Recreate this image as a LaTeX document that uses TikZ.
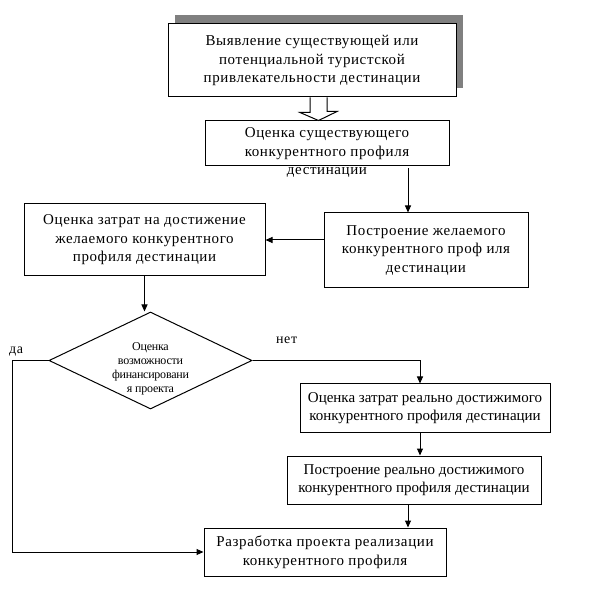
\documentclass[tikz,border=0pt]{standalone}
\usepackage{fontspec}
\setmainfont{Liberation Serif}[LetterSpace=4]
\usetikzlibrary{shapes.geometric,arrows.meta}
\definecolor{shadowgray}{gray}{0.5}
\tikzset{
  boxfont/.style={font=\fontsize{15}{18.5}\selectfont},
  box/.style={draw=black, line width=1pt, fill=white, align=center, inner sep=4pt, boxfont},
  tight/.style={font=\fontsize{15}{18.5}\selectfont\addfontfeature{LetterSpace=0}},
  flow/.style={draw=black, line width=1pt, -{Triangle[length=7pt,width=6pt]}},
  decision/.style={draw=black, line width=1pt, diamond, inner sep=0pt, shape aspect=2.1},
  decfont/.style={align=center, inner sep=0pt,
    font=\fontsize{12}{14}\selectfont\addfontfeature{LetterSpace=-2}},
  lbl/.style={font=\fontsize{14}{16}\selectfont, inner sep=0pt}
}
\begin{document}
\begin{tikzpicture}[x=1pt,y=-1pt]
\useasboundingbox (0,0) rectangle (613,601);
% shadow behind the top box
\fill[shadowgray] (175,15) rectangle (463,88);
\node[box, minimum width=288pt, minimum height=73pt] (b1) at (312,60.5)
  {Выявление существующей или\\потенциальной туристской\\привлекательности дестинации};

\node[box, minimum width=244pt, minimum height=45pt] (b2) at (327,143.5) {};
\node[boxfont, align=center, anchor=north, inner sep=0pt] (b2t) at ([yshift=-7pt]b2.north)
  {Оценка существующего\\конкурентного профиля\\дестинации};

% hollow block arrow
\coordinate (ha) at (318.5,0);
\draw[line width=1pt, fill=white]
  ([xshift=-8.5pt]b1.south -| ha) -- ++(0,15) -- ++(-10,0) -- (b2.north -| ha) -- ++(18.5,-9) -- ++(-10,0) -- ([xshift=8.5pt]b1.south -| ha);

\node[box, minimum width=204pt, minimum height=75pt] (b3) at (426,250.5)
  {Построение желаемого\\конкурентного проф иля\\дестинации};
\node[box, minimum width=241pt, minimum height=72pt] (b4) at (144.5,240)
  {Оценка затрат на достижение\\желаемого конкурентного\\профиля дестинации};

\node[decision, minimum width=203pt, minimum height=97pt] (d) at (150.5,360.5) {};
\node[decfont] (dt) at ([yshift=-8pt]d.center)
  {Оценка\\возможности\\финансировани\\я проекта};

\node[box, tight, minimum width=250pt, minimum height=48pt] (b5) at (425,408)
  {Оценка затрат реально достижимого\\конкурентного профиля дестинации};
\node[box, tight, minimum width=254pt, minimum height=48pt] (b6) at (414,480)
  {Построение реально достижимого\\конкурентного профиля дестинации};
\node[box, minimum width=242pt, minimum height=48pt] (b7) at (325,552)
  {Разработка проекта реализации\\конкурентного профиля};

\node[lbl, anchor=west] (da) at (9,352) {да};
\node[lbl, anchor=west] (net) at (276,340) {нет};

\coordinate (c23) at (408,0);
\draw[flow] ([yshift=-2pt]b2.south -| c23) -- (b3.north -| c23);
\draw[flow] (b3.west |- b4.east) -- (b4.east);
\draw[flow] (b4.south) -- (d.north -| b4.south);
\coordinate (cr) at (420,0);
\draw[flow] (d.east) -- (d.east -| cr) -- (b5.north -| cr);
\draw[flow] (b5.south -| cr) -- (b6.north -| cr);
\coordinate (c67) at (408,0);
\draw[flow] (b6.south -| c67) -- (b7.north -| c67);
\coordinate (cl) at (12,0);
\draw[flow] (d.west) -- (d.west -| cl) -- (b7.west -| cl) -- (b7.west);
\end{tikzpicture}
\end{document}
